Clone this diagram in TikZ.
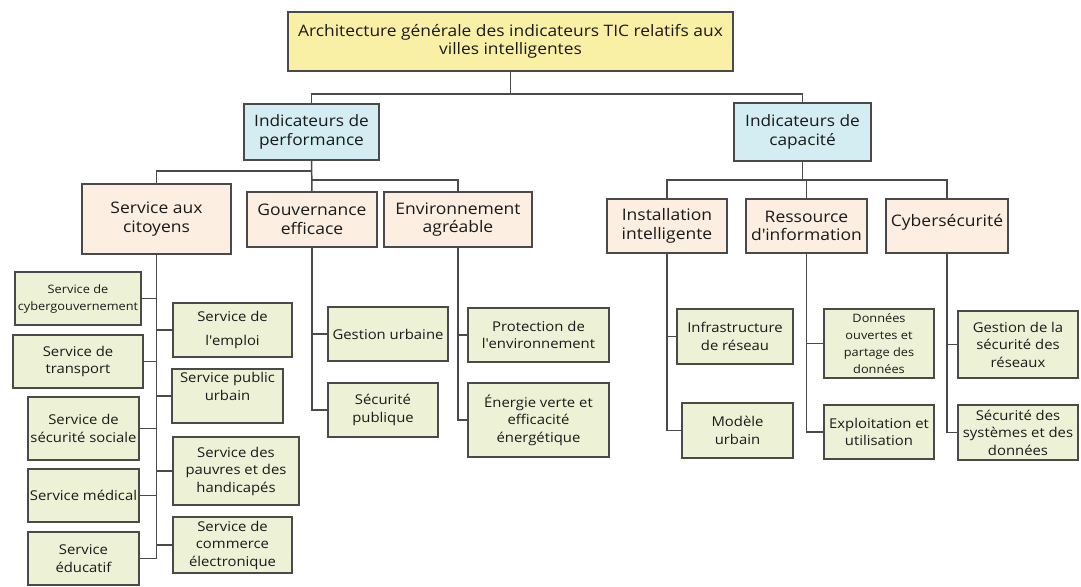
\documentclass[tikz,border=0pt]{standalone}
\usepackage{fontspec}
\setmainfont{Open Sans}[FakeStretch=1.1]
\definecolor{ytop}{HTML}{FAF0A5}
\definecolor{bl}{HTML}{D3EDF3}
\definecolor{pe}{HTML}{FDEEE2}
\definecolor{gr}{HTML}{EDF2D6}
\definecolor{ln}{HTML}{4A4A4A}
\definecolor{tx}{HTML}{1A1A1A}
\newcommand\bx[7]{\node[#6, minimum width={(#4)-(#2)}, minimum height={(#5)-(#3)}] (#1) at ({((#2)+(#4))/2},{((#3)+(#5))/2}) {#7};}
\newcommand\apos{\textquotesingle}
\tikzset{
  basebox/.style={draw=ln, line width=1.3pt, align=center, inner sep=1pt, text=tx},
  topbox/.style={basebox, fill=ytop, font=\fontsize{15.8}{17.5}\selectfont},
  bluebox/.style={basebox, fill=bl, font=\fontsize{15.7}{19}\selectfont},
  peachbox/.style={basebox, fill=pe, font=\fontsize{15.9}{18.5}\selectfont},
  greenbox/.style={basebox, fill=gr, font=\fontsize{13.5}{17.5}\selectfont},
  smallgreen/.style={basebox, fill=gr, font=\fontsize{11.6}{17}\selectfont},
  conn/.style={draw=ln, line width=1.5pt},
}
\begin{document}
\begin{tikzpicture}[x=1pt,y=-1pt]
\useasboundingbox (0,0) rectangle (1081,586);
\fill[white] (0,0) rectangle (1081,586);
% level 0-1
\bx{top}{288}{12}{733}{71}{topbox}{Architecture générale des indicateurs TIC relatifs aux\\villes intelligentes}
\bx{perf}{244}{104}{379}{160}{bluebox}{Indicateurs de\\performance}
\bx{cap}{734}{103}{871}{161}{bluebox}{Indicateurs de\\capacité}
% level 2
\bx{sac}{82}{184}{231}{254}{peachbox}{Service aux\\citoyens}
\bx{gouv}{247}{192}{377}{247}{peachbox}{Gouvernance\\efficace}
\bx{env}{384}{192}{532}{247}{peachbox}{Environnement\\agréable}
\bx{inst}{607}{199}{727}{253}{peachbox}{Installation\\intelligente}
\bx{res}{746}{199}{867}{253}{peachbox}{Ressource\\d\apos information}
\bx{cyb}{886}{199}{1008}{253}{peachbox}{\raisebox{12pt}{Cybersécurité}}
% level 3 - service aux citoyens
\bx{cgov}{15}{272}{141}{325}{smallgreen}{Service de\\cybergouvernement}
\bx{trans}{13}{335}{143}{388}{greenbox}{Service de\\transport}
\bx{socs}{28}{397}{139}{460}{greenbox}{Service de\\sécurité sociale}
\bx{med}{28}{469}{139}{522}{greenbox}{Service médical}
\bx{educ}{28}{532}{139}{585}{greenbox}{Service\\éducatif}
\bx{empl}{173}{303}{292}{357}{greenbox}{Service de\\[7pt]l\apos emploi}
\bx{pub}{172}{369}{283}{423}{greenbox}{Service public\\urbain\\[2pt]}
\bx{pauv}{173}{437}{299}{505}{greenbox}{Service des\\pauvres et des\\handicapés}
\bx{comm}{173}{517}{292}{573}{greenbox}{Service de\\commerce\\électronique}
% gouvernance / environnement
\bx{gurb}{328}{307}{448}{361}{greenbox}{Gestion urbaine}
\bx{spub}{328}{383}{438}{437}{greenbox}{Sécurité\\publique}
\bx{prot}{468}{308}{609}{362}{greenbox}{Protection de\\l\apos environnement}
\bx{ener}{468}{383}{609}{457}{greenbox}{Énergie verte et\\efficacité\\énergétique}
% capacity children
\bx{infra}{677}{309}{793}{364}{greenbox}{Infrastructure\\de réseau}
\bx{mod}{682}{403}{793}{458}{greenbox}{Modèle\\urbain}
\bx{donn}{824}{309}{934}{378}{smallgreen}{Données\\ouvertes et\\partage des\\données}
\bx{expl}{824}{405}{934}{459}{greenbox}{Exploitation et\\utilisation}
\bx{gsec}{958}{311}{1078}{378}{greenbox}{Gestion de la\\sécurité des\\réseaux}
\bx{ssys}{958}{405}{1078}{460}{greenbox}{Sécurité des\\systèmes et des\\données}
% connectors
\coordinate (h0) at (0,94);
\coordinate (h1) at (0,171);
\coordinate (h2) at (0,180);
\draw[conn] (top.south) -- (top.south |- h0) -| (perf.north);
\draw[conn] (top.south |- h0) -| (cap.north);
\draw[conn] (perf.south) -- (perf.south |- h1) -| (sac.north);
\draw[conn] (perf.south) -- (gouv.north);
\draw[conn] (gouv.north |- h2) -| (env.north);
\draw[conn] (cap.south) -- (cap.south |- h2) -| (inst.north);
\draw[conn] (cap.south |- h2) -| (res.north);
\draw[conn] (cap.south |- h2) -| (cyb.north);
% service aux citoyens subtree
\draw[conn] (sac.south) |- (educ.east);
\foreach \c in {cgov,trans,socs,med}{\draw[conn] (sac.south |- \c.east) -- (\c.east);}
\foreach \c in {empl,pub,pauv,comm}{\draw[conn] (sac.south |- \c.west) -- (\c.west);}
% gouvernance
\draw[conn] (gouv.south) |- (spub.west);
\draw[conn] (gouv.south |- gurb.west) -- (gurb.west);
% environnement
\draw[conn] (env.south) |- (ener.west);
\draw[conn] (env.south |- prot.west) -- (prot.west);
% installation
\draw[conn] (inst.south) |- (mod.west);
\draw[conn] (inst.south |- infra.west) -- (infra.west);
% ressource
\draw[conn] (res.south) |- (expl.west);
\draw[conn] (res.south |- donn.west) -- (donn.west);
% cyber
\draw[conn] (cyb.south) |- (ssys.west);
\draw[conn] (cyb.south |- gsec.west) -- (gsec.west);
\end{tikzpicture}
\end{document}
